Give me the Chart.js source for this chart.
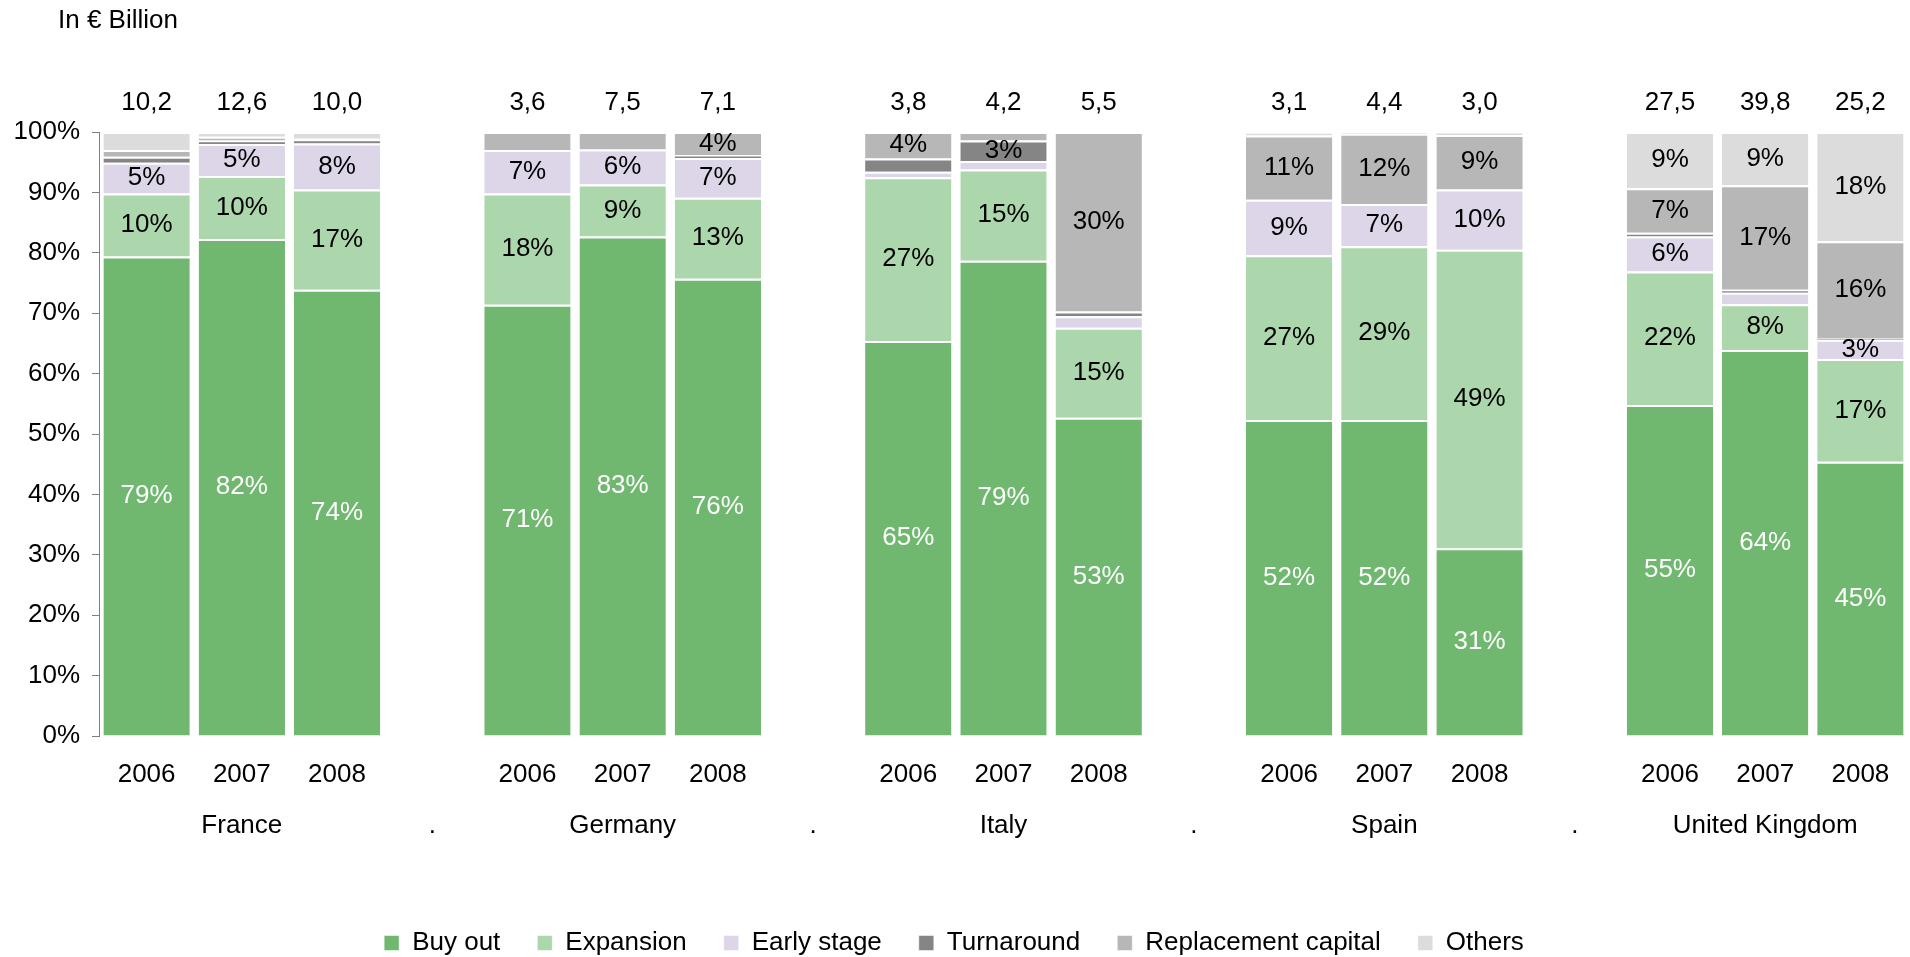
<!DOCTYPE html>
<html>
<head>
<meta charset="utf-8">
<script src="https://cdn.jsdelivr.net/npm/chart.js@4.4.1/dist/chart.umd.min.js"></script>
<style>
    html, body { margin: 0; padding: 0; background: #ffffff; overflow: hidden; }
    #wrap { width: 1910px; height: 957px; }
</style>
</head>
<body>
<div id="wrap"><canvas id="investments-chart" width="1910" height="957"></canvas></div>
<script>
// Stage split of investments per country, share of yearly amount (in %)
const years = ['2006', '2007', '2008'];
const countries = ['France', 'Germany', 'Italy', 'Spain', 'United Kingdom'];

// one empty slot between countries keeps the groups apart
const buyOut      = [79.4, 82.3, 73.9, null, 71.4, 82.7, 75.7, null, 65.4, 78.7, 52.7, null, 52.3, 52.3, 31.1, null, 54.8, 63.9, 45.4];
const expansion   = [10.4, 10.4, 16.6, null, 18.4,  8.6, 13.4, null, 27.1, 15.1, 14.9, null, 27.3, 28.8, 49.4, null, 22.1,  7.6, 17.0];
const earlyStage  = [ 5.1,  5.3,  7.6, null,  7.2,  5.8,  6.6, null,  0.9,  1.4,  1.9, null,  9.2,  7.0, 10.0, null,  5.8,  1.9,  3.2];
const turnaround  = [ 1.0,  0.6,  0.7, null,  0.0,  0.0,  0.5, null,  2.2,  3.4,  0.8, null,  0.0,  0.0,  0.0, null,  0.6,  0.5,  0.3];
const replacement = [ 1.1,  0.6,  0.2, null,  3.0,  2.9,  3.8, null,  4.4,  1.4, 29.7, null, 10.6, 11.6,  9.0, null,  7.4, 17.3, 16.0];
const others      = [ 3.0,  0.8,  1.0, null,  0.0,  0.0,  0.0, null,  0.0,  0.0,  0.0, null,  0.6,  0.3,  0.5, null,  9.3,  8.8, 18.1];

// total invested, in EUR billion
const totals = [10.2, 12.6, 10.0, null, 3.6, 7.5, 7.1, null, 3.8, 4.2, 5.5, null, 3.1, 4.4, 3.0, null, 27.5, 39.8, 25.2];

const yTicks = [0, 10, 20, 30, 40, 50, 60, 70, 80, 90, 100];

const FONT = "'Liberation Sans', Arial, sans-serif";

// x labels: year on first line, country under the middle year, '.' in the gaps
const labels = [];
countries.forEach((country, i) => {
    years.forEach((year, j) => labels.push([year, j === 1 ? country : '']));
    if (i < countries.length - 1) labels.push(['', '.']);
});

const series = [
    { label: 'Buy out', data: buyOut, color: '#70b870', text: '#ffffff' },
    { label: 'Expansion', data: expansion, color: '#acd7ac', text: '#000000' },
    { label: 'Early stage', data: earlyStage, color: '#dcd6e8', text: '#000000' },
    { label: 'Turnaround', data: turnaround, color: '#858585', text: '#000000' },
    { label: 'Replacement capital', data: replacement, color: '#b7b7b7', text: '#000000' },
    { label: 'Others', data: others, color: '#dcdcdc', text: '#000000' }
];

const segmentLabels = {
    id: 'segmentLabels',
    afterDatasetsDraw(chart) {
        const ctx = chart.ctx;
        ctx.save();
        ctx.font = '26px ' + FONT;
        ctx.textAlign = 'center';
        ctx.textBaseline = 'middle';
        chart.data.datasets.forEach((ds, di) => {
            const meta = chart.getDatasetMeta(di);
            meta.data.forEach((bar, i) => {
                const v = ds.data[i];
                if (v == null || v < 3.1) return;
                ctx.fillStyle = series[di].text;
                ctx.fillText(Math.round(v) + '%', bar.x, (bar.y + bar.base) / 2);
            });
        });

        // totals above each bar
        const yTop = chart.scales.y.getPixelForValue(100);
        const xScale = chart.scales.x;
        ctx.fillStyle = '#000000';
        totals.forEach((t, i) => {
            if (t == null) return;
            ctx.fillText(t.toFixed(1).replace('.', ','), xScale.getPixelForValue(i), yTop - 29);
        });

        // unit note
        ctx.textAlign = 'left';
        ctx.fillText('In € Billion', 58, 21);
        ctx.restore();
    }
};

const ctx = document.getElementById('investments-chart').getContext('2d');
const chart = new Chart(ctx, {
    type: 'bar',
    data: {
        labels: labels,
        datasets: series.map(s => ({
            label: s.label,
            data: s.data,
            backgroundColor: s.color,
            borderColor: '#ffffff',
            borderWidth: { top: 2, bottom: 0, left: 0, right: 0 },
            borderSkipped: false,
            barPercentage: 0.907,
            categoryPercentage: 1.0
        }))
    },
    options: {
        responsive: false,
        animation: false,
        layout: {
            padding: { top: 132, left: 0, right: 2, bottom: -9 }
        },
        plugins: {
            legend: {
                position: 'bottom',
                labels: {
                    color: '#000000',
                    boxWidth: 15,
                    boxHeight: 15,
                    padding: 37,
                    font: { family: FONT, size: 26 }
                }
            },
            tooltip: { enabled: false }
        },
        scales: {
            x: {
                stacked: true,
                grid: { display: false, drawTicks: false },
                border: { display: false },
                ticks: {
                    color: '#000000',
                    padding: 13,
                    maxRotation: 0,
                    autoSkip: false,
                    font: { family: FONT, size: 26, lineHeight: 1.96 }
                },
                afterFit: function (scale) {
                    scale.height = 157;
                }
            },
            y: {
                stacked: true,
                min: 0,
                max: 100,
                afterBuildTicks: function (scale) {
                    scale.ticks = yTicks.map(v => ({ value: v }));
                },
                grid: {
                    drawOnChartArea: false,
                    drawTicks: true,
                    tickLength: 7,
                    color: '#7f7f7f'
                },
                border: { color: '#7f7f7f', width: 1 },
                ticks: {
                    color: '#000000',
                    padding: 12,
                    font: { family: FONT, size: 26 },
                    callback: function (value) {
                        return value + '%';
                    }
                },
                afterFit: function (scale) {
                    scale.width = 99;
                }
            }
        }
    },
    plugins: [segmentLabels]
});
</script>
</body>
</html>
